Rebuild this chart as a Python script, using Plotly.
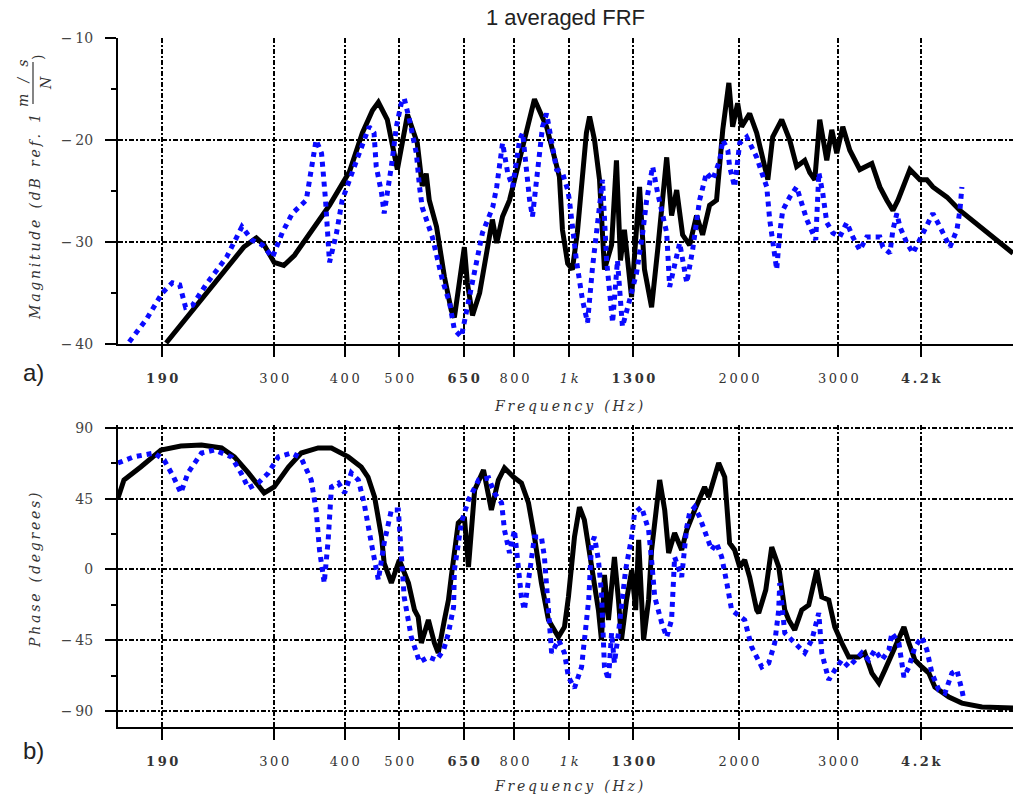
import math
import plotly.graph_objects as go

# ---------------- data ----------------
x_tickvals = [190, 300, 400, 500, 650, 800, 1000, 1300, 2000, 3000, 4200]
x_ticktext = ["<b>1\u20099\u20090</b>", "3\u20090\u20090", "4\u20090\u20090", "5\u20090\u20090",
              "<b>6\u20095\u20090</b>", "8\u20090\u20090", "<i>1\u2009k</i>", "<b>1\u20093\u20090\u20090</b>",
              "2\u20090\u20090\u20090", "3\u20090\u20090\u20090", "<b>4\u2009.\u20092\u2009k</b>"]
mag_tickvals = [-40, -30, -20, -10]
mag_ticktext = ["\u2212\u200940", "\u2212\u200930", "\u2212\u200920", "\u2212\u200910"]
mag_minor = [-35, -25, -15]
ph_tickvals = [-90, -45, 0, 45, 90]
ph_ticktext = ["\u2212\u200990", "\u2212\u200945", "0", "45", "90"]
ph_minor = [-67.5, -22.5, 22.5, 67.5]

mag_black_f = [193, 265, 279, 288, 300, 312, 326, 346, 376, 408,
               430, 448, 459, 476, 496, 517, 538, 549, 558, 565,
               582, 601, 618, 626, 644, 652, 660, 674, 694, 717,
               731, 744, 762, 784, 817, 868, 912, 961, 973, 994,
               1013, 1034, 1073, 1087, 1109, 1132, 1155, 1189, 1213, 1233,
               1253, 1290, 1312, 1333, 1360, 1400, 1435, 1465, 1489, 1519,
               1551, 1589, 1635, 1682, 1724, 1774, 1825, 1872, 1919, 1949,
               1989, 2022, 2089, 2150, 2250, 2295, 2381, 2460, 2531, 2616,
               2670, 2725, 2781, 2862, 2921, 2981, 3055, 3144, 3275, 3440,
               3554, 3657, 3749, 3827, 4018, 4185, 4306, 4413, 4674, 4928,
               5348, 6120]
mag_black_db = [-39.9, -30.5, -29.6, -30.3, -32.0, -32.3, -31.3, -29.3, -26.4, -23.1,
                -19.3, -17.1, -16.3, -18.0, -22.9, -17.5, -20.3, -24.5, -23.3, -25.9,
                -28.5, -33.4, -36.7, -37.4, -32.5, -30.5, -34.0, -37.2, -35.0, -30.1,
                -27.8, -30.1, -27.5, -25.9, -22.0, -16.0, -18.7, -23.6, -28.8, -32.1,
                -32.7, -29.1, -19.3, -17.7, -20.0, -23.9, -32.7, -30.3, -22.0, -31.8,
                -28.8, -35.4, -29.8, -24.6, -32.7, -36.4, -30.8, -25.9, -21.7, -27.4,
                -24.9, -29.3, -30.3, -27.4, -29.3, -26.4, -25.9, -19.0, -14.4, -18.7,
                -16.4, -18.7, -17.4, -19.3, -23.9, -19.7, -18.0, -20.0, -22.6, -22.0,
                -23.2, -23.9, -18.0, -22.0, -19.0, -21.3, -18.7, -21.0, -22.9, -22.3,
                -24.6, -25.9, -26.9, -25.9, -22.9, -23.9, -23.9, -24.6, -25.6, -26.9,
                -28.5, -31.1]

mag_blue_f = [166, 178, 190, 198, 204, 209, 215, 227, 247, 263,
              274, 286, 298, 310, 323, 342, 356, 364, 370, 376,
              387, 396, 420, 442, 451, 455, 465, 470, 484, 494,
              504, 510, 521, 536, 543, 549, 572, 596, 614, 626,
              644, 658, 674, 702, 732, 744, 762, 778, 794, 817,
              827, 840, 851, 861, 875, 897, 912, 931, 950, 973,
              994, 1001, 1030, 1056, 1078, 1100, 1119, 1146, 1165, 1194,
              1218, 1243, 1280, 1317, 1350, 1372, 1406, 1435, 1489, 1507,
              1570, 1616, 1655, 1703, 1752, 1796, 1849, 1872, 1911, 1925,
              1965, 2006, 2064, 2106, 2150, 2195, 2240, 2267, 2304, 2333,
              2362, 2391, 2460, 2531, 2637, 2692, 2736, 2771, 2815, 2862,
              2933, 3018, 3106, 3183, 3275, 3370, 3554, 3598, 3703, 3749,
              3810, 3857, 3969, 4068, 4152, 4306, 4413, 4542, 4731, 4868,
              4928, 4968]
mag_blue_db = [-39.8, -37.6, -35.0, -34.0, -34.2, -36.4, -36.2, -34.2, -31.5, -28.5,
               -29.8, -30.3, -31.5, -29.1, -27.2, -25.9, -20.0, -21.3, -25.9, -32.0,
               -29.1, -25.9, -22.0, -18.7, -19.3, -22.6, -25.2, -27.2, -22.6, -18.7,
               -16.4, -15.9, -18.0, -21.3, -24.6, -26.6, -29.5, -33.7, -36.0, -38.6,
               -39.3, -36.7, -33.7, -29.1, -26.6, -24.6, -20.3, -23.2, -24.6, -20.0,
               -19.3, -23.2, -25.9, -27.5, -23.9, -18.7, -17.4, -20.0, -22.9, -23.2,
               -24.9, -25.9, -31.8, -35.7, -37.9, -32.5, -29.1, -23.9, -31.8, -37.9,
               -31.8, -38.3, -35.7, -33.0, -29.1, -25.9, -22.6, -25.2, -29.1, -34.4,
               -30.1, -34.0, -30.8, -25.9, -23.2, -23.9, -22.0, -20.0, -21.0, -22.6,
               -24.6, -20.3, -19.7, -20.7, -21.7, -23.2, -24.6, -27.8, -30.5, -32.7,
               -29.1, -26.9, -25.6, -24.6, -27.8, -29.1, -29.8, -23.2, -25.2, -28.1,
               -29.1, -29.5, -28.1, -29.5, -30.8, -29.5, -29.5, -30.5, -31.1, -28.8,
               -27.2, -28.5, -30.1, -31.1, -30.1, -28.5, -27.2, -28.5, -30.5, -28.8,
               -26.9, -24.6]

ph_black_f = [158.6, 162.5, 174, 189, 205, 223, 242, 255, 270, 288,
              300, 318, 335, 359, 379, 406, 428, 440, 452, 465,
              470, 484, 500, 519, 532, 540, 547, 563, 577, 586,
              601, 611, 618, 636, 652, 663, 680, 705, 728, 749,
              768, 797, 823, 847, 868, 893, 919, 957, 981, 997,
              1022, 1043, 1064, 1096, 1127, 1141, 1155, 1174, 1203, 1223,
              1238, 1264, 1291, 1312, 1328, 1344, 1355, 1383, 1400, 1447,
              1477, 1501, 1538, 1583, 1616, 1669, 1738, 1767, 1841, 1887,
              1925, 1965, 2006, 2047, 2089, 2150, 2168, 2231, 2286, 2352,
              2411, 2450, 2511, 2584, 2659, 2747, 2804, 2885, 2957, 3043,
              3131, 3262, 3342, 3440, 3540, 3627, 3779, 3921, 4002, 4101,
              4219, 4341, 4449, 4712, 4968, 5392, 6120]
ph_black_deg = [45.5, 56.9, 65.2, 76.0, 78.5, 79.2, 77.3, 71.6, 61.4, 48.7,
                52.5, 65.2, 74.1, 77.3, 77.3, 71.6, 65.2, 58.8, 46.1, 20.7,
                4.1, -8.6, 6.0, -8.6, -25.8, -30.2, -46.8, -32.1, -46.8, -53.1,
                -32.1, -19.4, -4.8, 29.6, 33.4, 1.6, 50.6, 63.3, 37.8, 56.9,
                64.6, 58.8, 55.0, 42.3, 20.7, -8.6, -32.1, -43.0, -36.6, -17.5,
                20.7, 39.7, 31.5, -0.4, -25.8, -44.9, -3.5, -32.1, 7.9, -19.4,
                -44.9, -19.4, -0.4, -25.8, 18.8, -19.4, -44.9, -19.4, 12.4, 56.9,
                37.8, 10.5, 23.2, 12.4, 25.1, 37.8, 52.5, 46.1, 67.7, 58.8,
                16.8, 12.4, 1.6, 6.0, -4.8, -25.8, -27.7, -13.1, 14.3, 1.6,
                -25.8, -32.1, -38.5, -25.8, -22.6, -0.4, -17.5, -19.4, -36.6, -46.8,
                -55.7, -55.7, -53.1, -65.9, -72.2, -64.0, -49.3, -36.6, -46.8, -57.6,
                -62.0, -65.9, -74.8, -81.1, -85.0, -87.5, -88.1]

ph_blue_f = [158.6, 169, 184, 191.5, 199, 205, 211, 223, 235, 252,
             262, 270, 281, 293, 305, 322, 335, 349, 356, 361,
             368, 374, 379, 390, 400, 411, 423, 433, 446, 459,
             470, 484, 498, 504, 510, 525, 543, 563, 582, 599,
             611, 624, 626, 644, 663, 691, 720, 737, 759, 768,
             784, 800, 823, 833, 868, 893, 904, 919, 931, 958,
             981, 997, 1022, 1052, 1065, 1083, 1096, 1109, 1127, 1141,
             1155, 1174, 1189, 1203, 1223, 1259, 1291, 1306, 1344, 1383,
             1400, 1418, 1459, 1489, 1519, 1538, 1583, 1616, 1635, 1669,
             1703, 1738, 1789, 1825, 1864, 1903, 1941, 2047, 2106, 2195,
             2258, 2314, 2352, 2362, 2411, 2511, 2616, 2692, 2770, 2804,
             2885, 2957, 3043, 3131, 3209, 3302, 3398, 3482, 3583, 3688,
             3733, 3841, 3921, 4002, 4101, 4219, 4306, 4395, 4522, 4636,
             4770, 4868, 4968, 5009]
ph_blue_deg = [67.7, 71.6, 74.1, 69.6, 58.8, 48.7, 61.4, 74.1, 76.0, 71.6,
               61.4, 51.8, 55.0, 61.4, 71.6, 74.1, 70.9, 56.9, 37.8, 12.4,
               -8.6, 18.8, 52.5, 55.0, 48.7, 61.4, 56.9, 42.3, 16.8, -6.7,
               16.8, 37.8, 37.8, 12.4, -17.5, -43.0, -58.9, -55.7, -57.6, -51.2,
               -40.4, -23.9, -0.4, 29.6, 44.2, 56.9, 58.2, 48.7, 42.3, 25.1,
               10.5, 25.1, -17.5, -25.8, 20.7, 20.7, 7.9, -25.8, -53.1, -44.9,
               -53.1, -68.4, -75.4, -62.0, -40.4, -19.4, 16.8, 20.7, 6.0, -15.0,
               -62.0, -70.3, -40.4, -59.5, -40.4, -0.4, 20.7, 35.9, 39.7, 25.1,
               6.0, -17.5, -34.0, -43.0, -32.1, 7.9, -4.8, 27.0, 35.9, 39.7,
               33.4, 25.1, 12.4, 16.8, 7.9, -8.6, -25.8, -32.1, -49.3, -62.0,
               -59.5, -46.8, -25.8, -8.6, -40.4, -46.8, -53.1, -44.9, -27.7, -53.1,
               -70.3, -64.0, -57.6, -62.0, -57.6, -53.1, -57.6, -51.2, -57.6, -51.2,
               -40.4, -46.8, -68.4, -62.0, -49.3, -43.0, -51.2, -65.9, -76.7, -78.6,
               -65.9, -64.0, -76.7, -83.0]

for a, b in [(mag_black_f, mag_black_db), (mag_blue_f, mag_blue_db),
             (ph_black_f, ph_black_deg), (ph_blue_f, ph_blue_deg)]:
    assert len(a) == len(b), (len(a), len(b))

# ---------------- layout helpers ----------------
W, H = 1013, 800
def px(x):
    return x / W
def py(y):
    return 1 - y / H

BLACK = "#000000"
BLUE = "#0a0aff"
SERIF = "DejaVu Serif"
GRIDDASH = "5px,2px,2px,2px"
xrange_log = [math.log10(158.6), math.log10(6120)]

fig = go.Figure()
fig.add_trace(go.Scatter(x=mag_black_f, y=mag_black_db, mode="lines",
                         line=dict(color=BLACK, width=5), xaxis="x", yaxis="y", showlegend=False))
fig.add_trace(go.Scatter(x=mag_blue_f, y=mag_blue_db, mode="lines",
                         line=dict(color=BLUE, width=5, dash="dot"), xaxis="x", yaxis="y", showlegend=False))
fig.add_trace(go.Scatter(x=ph_black_f, y=ph_black_deg, mode="lines",
                         line=dict(color=BLACK, width=5), xaxis="x2", yaxis="y2", showlegend=False))
fig.add_trace(go.Scatter(x=ph_blue_f, y=ph_blue_deg, mode="lines",
                         line=dict(color=BLUE, width=5, dash="dot"), xaxis="x2", yaxis="y2", showlegend=False))

tickfont = dict(family=SERIF, size=13, color="#333333")

def xaxis_cfg(anchor):
    return dict(type="log", range=xrange_log, domain=[px(118), 1.0], anchor=anchor,
                tickmode="array", tickvals=x_tickvals, ticktext=x_ticktext,
                ticks="outside", ticklen=11, tickwidth=2, tickcolor=BLACK,
                showline=True, linecolor=BLACK, linewidth=2,
                showgrid=True, gridcolor=BLACK, gridwidth=1.6, griddash=GRIDDASH,
                zeroline=False, tickfont=tickfont, ticklabelstandoff=10, automargin=False)

def yaxis_cfg(anchor, rng, dom, tv, tt, minor):
    return dict(range=rng, domain=dom, anchor=anchor,
                tickmode="array", tickvals=tv, ticktext=tt,
                ticks="outside", ticklen=11, tickwidth=2, tickcolor=BLACK,
                minor=dict(tickvals=minor, ticks="outside", ticklen=5, tickwidth=2,
                           tickcolor=BLACK, showgrid=False),
                showline=True, linecolor=BLACK, linewidth=2,
                showgrid=True, gridcolor=BLACK, gridwidth=1.6, griddash=GRIDDASH,
                zeroline=False, tickfont=dict(family=SERIF, size=14, color="#444444"),
                ticklabelstandoff=9, automargin=False)

fig.update_layout(
    width=W, height=H,
    margin=dict(l=0, r=0, t=0, b=0),
    paper_bgcolor="white", plot_bgcolor="white",
    xaxis=xaxis_cfg("y"),
    yaxis=yaxis_cfg("x", [-40, -10], [py(344), py(38)], mag_tickvals, mag_ticktext, mag_minor),
    xaxis2=xaxis_cfg("y2"),
    yaxis2=yaxis_cfg("x2", [-100.2, 91.9], [py(727), py(425)], ph_tickvals, ph_ticktext, ph_minor),
    showlegend=False,
)

def spaced(s, sp="\u2009"):
    return sp.join(list(s)).replace(sp + " " + sp, sp * 4)

ital = dict(family=SERIF, size=14, color="#333333")
annotations = [
    dict(x=px(565), y=py(18), text="1 averaged FRF",
         font=dict(family="Liberation Sans", size=22, color="#222222")),
    dict(x=px(33), y=py(372), text="a)", font=dict(family="Liberation Sans", size=24, color="#222222")),
    dict(x=px(33), y=py(750), text="b)", font=dict(family="Liberation Sans", size=24, color="#222222")),
    dict(x=px(568), y=py(406), text="<i>" + spaced("Frequency (Hz)") + "</i>", font=ital),
    dict(x=px(568), y=py(786), text="<i>" + spaced("Frequency (Hz)") + "</i>", font=ital),
    dict(x=px(35), y=py(570), text="<i>" + spaced("Phase (degrees)") + "</i>", font=ital, textangle=-90),
    dict(x=px(35), y=py(217), text="<i>" + spaced("Magnitude (dB ref. 1") + "</i>",
         font=ital, textangle=-90),
    dict(x=px(23), y=py(83), text="<i>" + spaced("m / s") + "</i>", font=ital, textangle=-90),
    dict(x=px(46), y=py(83), text="<i>N</i>", font=ital, textangle=-90),
    dict(x=px(38), y=py(58), text=")", font=ital, textangle=-90),
]
for a in annotations:
    a.update(xref="paper", yref="paper", showarrow=False, xanchor="center", yanchor="middle")
fig.update_layout(annotations=annotations)

fig.add_shape(type="line", xref="paper", yref="paper",
              x0=px(33), x1=px(33), y0=py(104), y1=py(62),
              line=dict(color="#333333", width=1.2))

fig.write_html("out.html")
